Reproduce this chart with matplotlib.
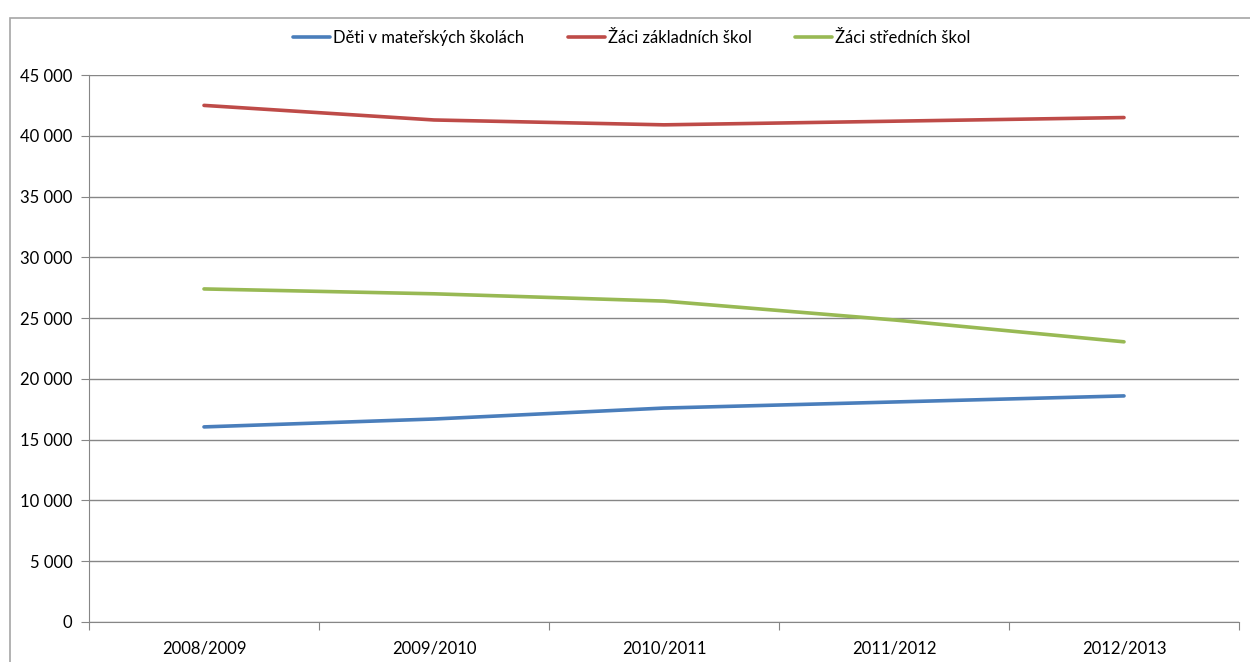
import matplotlib
matplotlib.use("Agg")
import matplotlib.pyplot as plt
from matplotlib.patches import Rectangle
from matplotlib.ticker import FuncFormatter, MultipleLocator

years = ["2008/2009", "2009/2010", "2010/2011", "2011/2012", "2012/2013"]
materske = [16050, 16700, 17600, 18100, 18600]
zakladni = [42500, 41300, 40900, 41200, 41500]
stredni = [27400, 27000, 26400, 24850, 23050]

series_names = ["Děti v mateřských školách", "Žáci základních škol", "Žáci středních škol"]
colors = ["#4A7EBB", "#BE4B48", "#98B954"]

plt.rcParams["font.family"] = ["Lato", "DejaVu Sans"]

fig = plt.figure(figsize=(12.5, 6.62), dpi=100)
fig.patches.append(Rectangle((10 / 1250, -0.1), 1.1, 1 - 18 / 662 + 0.1,
                             transform=fig.transFigure, fill=False,
                             edgecolor="#a6a6a6", linewidth=1.2))

ax = fig.add_axes([89 / 1250, 1 - 622 / 662, (1239 - 89) / 1250, (622 - 75) / 662])
x = list(range(len(years)))
for vals, name, c in zip([materske, zakladni, stredni], series_names, colors):
    ax.plot(x, vals, color=c, linewidth=2.6, label=name, solid_capstyle="round")

ax.set_xlim(-0.5, len(years) - 0.5)
ax.set_ylim(0, 45000)
ax.yaxis.set_major_locator(MultipleLocator(5000))
ax.yaxis.set_major_formatter(FuncFormatter(lambda v, p: f"{int(v):,}".replace(",", " ")))
ax.grid(axis="y", color="#868686", linewidth=1)
ax.set_axisbelow(True)

ax.set_xticks([i + 0.5 for i in range(-1, len(years))])
ax.set_xticklabels([])
ax.set_xticks(x, minor=True)
ax.set_xticklabels(years, minor=True)
ax.tick_params(axis="x", which="major", length=6, color="#868686", direction="out")
ax.tick_params(axis="x", which="minor", length=0, pad=13, labelsize=12)
ax.tick_params(axis="y", length=6, color="#868686", labelsize=12, pad=6)

for side in ["top", "right"]:
    ax.spines[side].set_visible(False)
for side in ["left", "bottom"]:
    ax.spines[side].set_color("#868686")

fig.legend(loc="center", bbox_to_anchor=(632 / 1250, 1 - 38 / 662), ncol=3,
           frameon=False, fontsize=12, handlelength=2.2, handletextpad=0.2,
           columnspacing=2.6)

fig.savefig("out.png", dpi=100)
